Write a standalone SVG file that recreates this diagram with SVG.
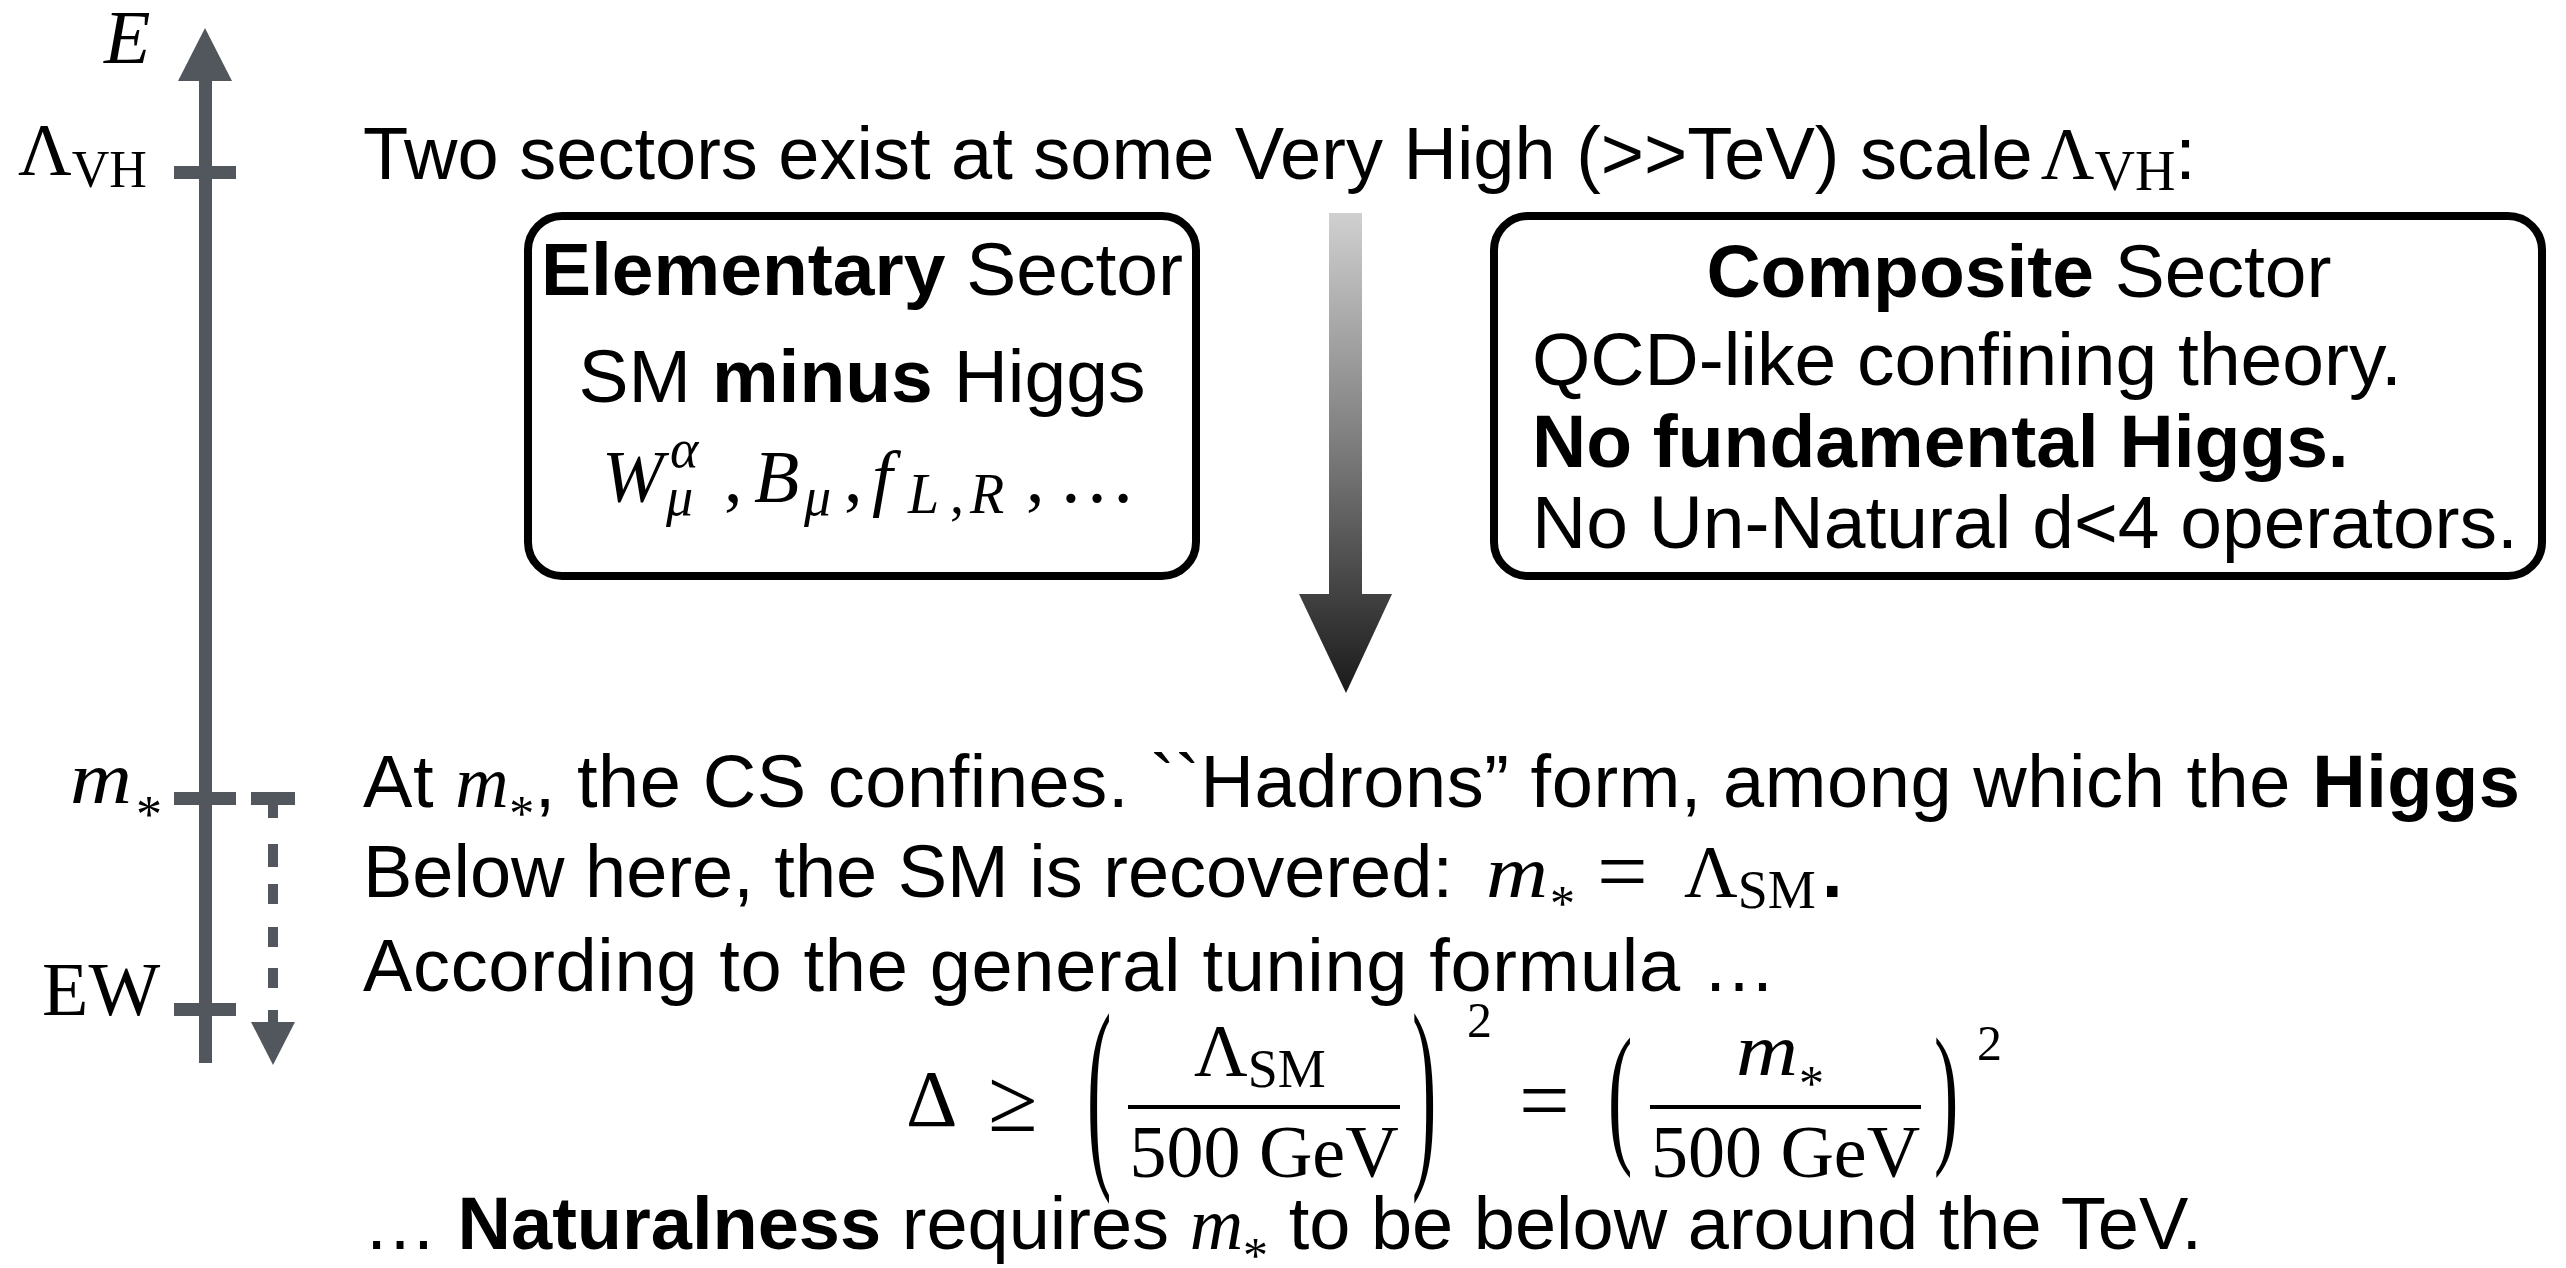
<svg xmlns="http://www.w3.org/2000/svg" width="2566" height="1268" viewBox="0 0 2566 1268">
<style>
.t{font-family:"Liberation Sans",Arial,Helvetica,sans-serif;font-size:74px;fill:#000}
.bx{font-family:"Liberation Sans",Arial,Helvetica,sans-serif;font-size:75px;fill:#000}
.b{font-weight:bold}
.m{font-family:"Liberation Serif","Times New Roman",serif;font-style:normal;font-weight:normal}
.mi{font-family:"Liberation Serif","Times New Roman",serif;font-style:italic;font-weight:normal}
.ax{fill:#52575d}
.box{fill:#fff;stroke:#000;stroke-width:8}
</style>
<defs>
<linearGradient id="grad" gradientUnits="userSpaceOnUse" x1="0" y1="213" x2="0" y2="693">
<stop offset="0" stop-color="#d0d0d0"/>
<stop offset="0.5" stop-color="#7a7a7a"/>
<stop offset="1" stop-color="#1a1a1a"/>
</linearGradient>
</defs>
<rect width="2566" height="1268" fill="#fff"/>

<g id="connectors">
  <g id="energy-axis" class="ax">
    <rect x="199" y="78" width="13" height="985"/>
    <polygon points="178,81 232,81 205,28"/>
    <rect x="174" y="166" width="62" height="13"/>
    <rect x="174" y="792" width="62" height="13"/>
    <rect x="174" y="1003" width="62" height="13"/>
  </g>
  <g id="running-arrow" class="ax">
    <rect x="251" y="792" width="44" height="13"/>
    <rect x="268" y="805" width="10" height="13"/>
    <rect x="268" y="844" width="10" height="23"/>
    <rect x="268" y="884" width="10" height="20"/>
    <rect x="268" y="927" width="10" height="20"/>
    <rect x="268" y="968" width="10" height="20"/>
    <rect x="268" y="1010" width="10" height="14"/>
    <polygon points="251,1022 295,1022 273,1065"/>
  </g>
  <g id="flow-arrow" fill="url(#grad)">
    <rect x="1329" y="213" width="33" height="382"/>
    <polygon points="1299,594 1392,594 1346,693"/>
  </g>
</g>

<g id="axis-labels">
  <text class="mi" x="104" y="63" font-size="76">E</text>
  <text class="m" x="18" y="175" font-size="74">Λ<tspan font-size="52" dy="12">VH</tspan></text>
  <text class="mi" x="70" y="803" font-size="74" textLength="62" lengthAdjust="spacingAndGlyphs">m</text>
  <text class="m" x="136" y="832" font-size="52">*</text>
  <text class="m" x="42" y="1015" font-size="76">EW</text>
</g>

<g id="title">
  <text class="t" x="363" y="179">Two sectors exist at some Very High (&gt;&gt;TeV) scale<tspan class="m" dx="8">Λ</tspan><tspan class="m" font-size="56" dy="11">VH</tspan><tspan dy="-11">:</tspan></text>
</g>

<g id="elementary-sector">
  <rect class="box" x="528" y="216" width="668" height="360" rx="34"/>
  <text class="bx" x="862" y="295" text-anchor="middle"><tspan class="b">Elementary</tspan> Sector</text>
  <text class="bx" x="862" y="402" text-anchor="middle">SM <tspan class="b">minus</tspan> Higgs</text>
  <text class="mi" x="602" y="502" font-size="74">W</text>
  <text class="mi" x="670" y="467" font-size="54">α</text>
  <text class="mi" x="666" y="515" font-size="54">μ</text>
  <text class="m" x="724" y="502" font-size="74">,</text>
  <text class="mi" x="754" y="502" font-size="74">B</text>
  <text class="mi" x="804" y="515" font-size="54">μ</text>
  <text class="m" x="844" y="502" font-size="74">,</text>
  <text class="mi" x="872" y="502" font-size="74">f</text>
  <text class="mi" x="908" y="513" font-size="56">L</text>
  <text class="m" x="950" y="513" font-size="56">,</text>
  <text class="mi" x="970" y="513" font-size="56">R</text>
  <text class="m" x="1026" y="502" font-size="74">,</text>
  <text class="m" x="1058" y="502" font-size="78">…</text>
</g>

<g id="composite-sector">
  <rect class="box" x="1494" y="216" width="1048" height="360" rx="34"/>
  <text class="bx" x="2019" y="297" text-anchor="middle"><tspan class="b">Composite</tspan> Sector</text>
  <text class="bx" x="1532" y="385" font-size="75.5">QCD-like confining theory.</text>
  <text class="bx b" x="1532" y="467">No fundamental Higgs.</text>
  <text class="bx" x="1532" y="548" font-size="75.6">No Un-Natural d&lt;4 operators.</text>
</g>

<g id="confinement-text">
  <text class="t" x="363" y="807" textLength="2157" lengthAdjust="spacing">At <tspan class="mi">m</tspan><tspan class="m" font-size="50" dy="23">*</tspan><tspan dy="-23">, the CS confines. ``Hadrons” form, among which the </tspan><tspan class="b">Higgs</tspan></text>
  <text class="t" x="363" y="897">Below here, the SM is recovered:</text>
  <text class="mi" x="1486" y="897" font-size="74" textLength="62" lengthAdjust="spacingAndGlyphs">m</text>
  <text class="m" x="1550" y="920" font-size="50">*</text>
  <text class="m" x="1597" y="902" font-size="90">=</text>
  <text class="m" x="1684" y="897" font-size="74">Λ<tspan font-size="54" dy="11">SM</tspan></text>
  <text class="t b" x="1822" y="897">.</text>
  <text class="t" x="363" y="991" textLength="1413" lengthAdjust="spacing">According to the general tuning formula …</text>
</g>

<g id="tuning-formula">
  <text class="m" x="906" y="1126" font-size="80">Δ</text>
  <text class="m" x="988" y="1131" font-size="90">≥</text>
  <text class="m" font-size="73" y="18" transform="translate(1087 1107.5) scale(1 2.88)">(</text>
  <rect x="1128" y="1105" width="272" height="4" fill="#000"/>
  <text class="m" x="1194" y="1076" font-size="74">Λ<tspan font-size="54" dy="11">SM</tspan></text>
  <text class="m" x="1264" y="1177" font-size="74" text-anchor="middle">500 GeV</text>
  <text class="m" font-size="73" y="18" transform="translate(1412 1107.5) scale(1 2.88)">)</text>
  <text class="m" x="1467" y="1037" font-size="50">2</text>
  <text class="m" x="1519" y="1131" font-size="90">=</text>
  <text class="m" font-size="73" y="18" transform="translate(1608 1107.5) scale(1 2.11)">(</text>
  <rect x="1650" y="1105" width="271" height="4" fill="#000"/>
  <text class="mi" x="1736" y="1075" font-size="74" textLength="62" lengthAdjust="spacingAndGlyphs">m</text>
  <text class="m" x="1799" y="1100" font-size="50">*</text>
  <text class="m" x="1785.5" y="1177" font-size="74" text-anchor="middle">500 GeV</text>
  <text class="m" font-size="73" y="18" transform="translate(1934 1107.5) scale(1 2.11)">)</text>
  <text class="m" x="1977" y="1060" font-size="50">2</text>
</g>

<g id="conclusion">
  <text class="t" x="363" y="1249">… <tspan class="b">Naturalness</tspan> requires <tspan class="mi">m</tspan><tspan class="m" font-size="50" dy="23">*</tspan><tspan dy="-23"> to be below around the TeV.</tspan></text>
</g>
</svg>
